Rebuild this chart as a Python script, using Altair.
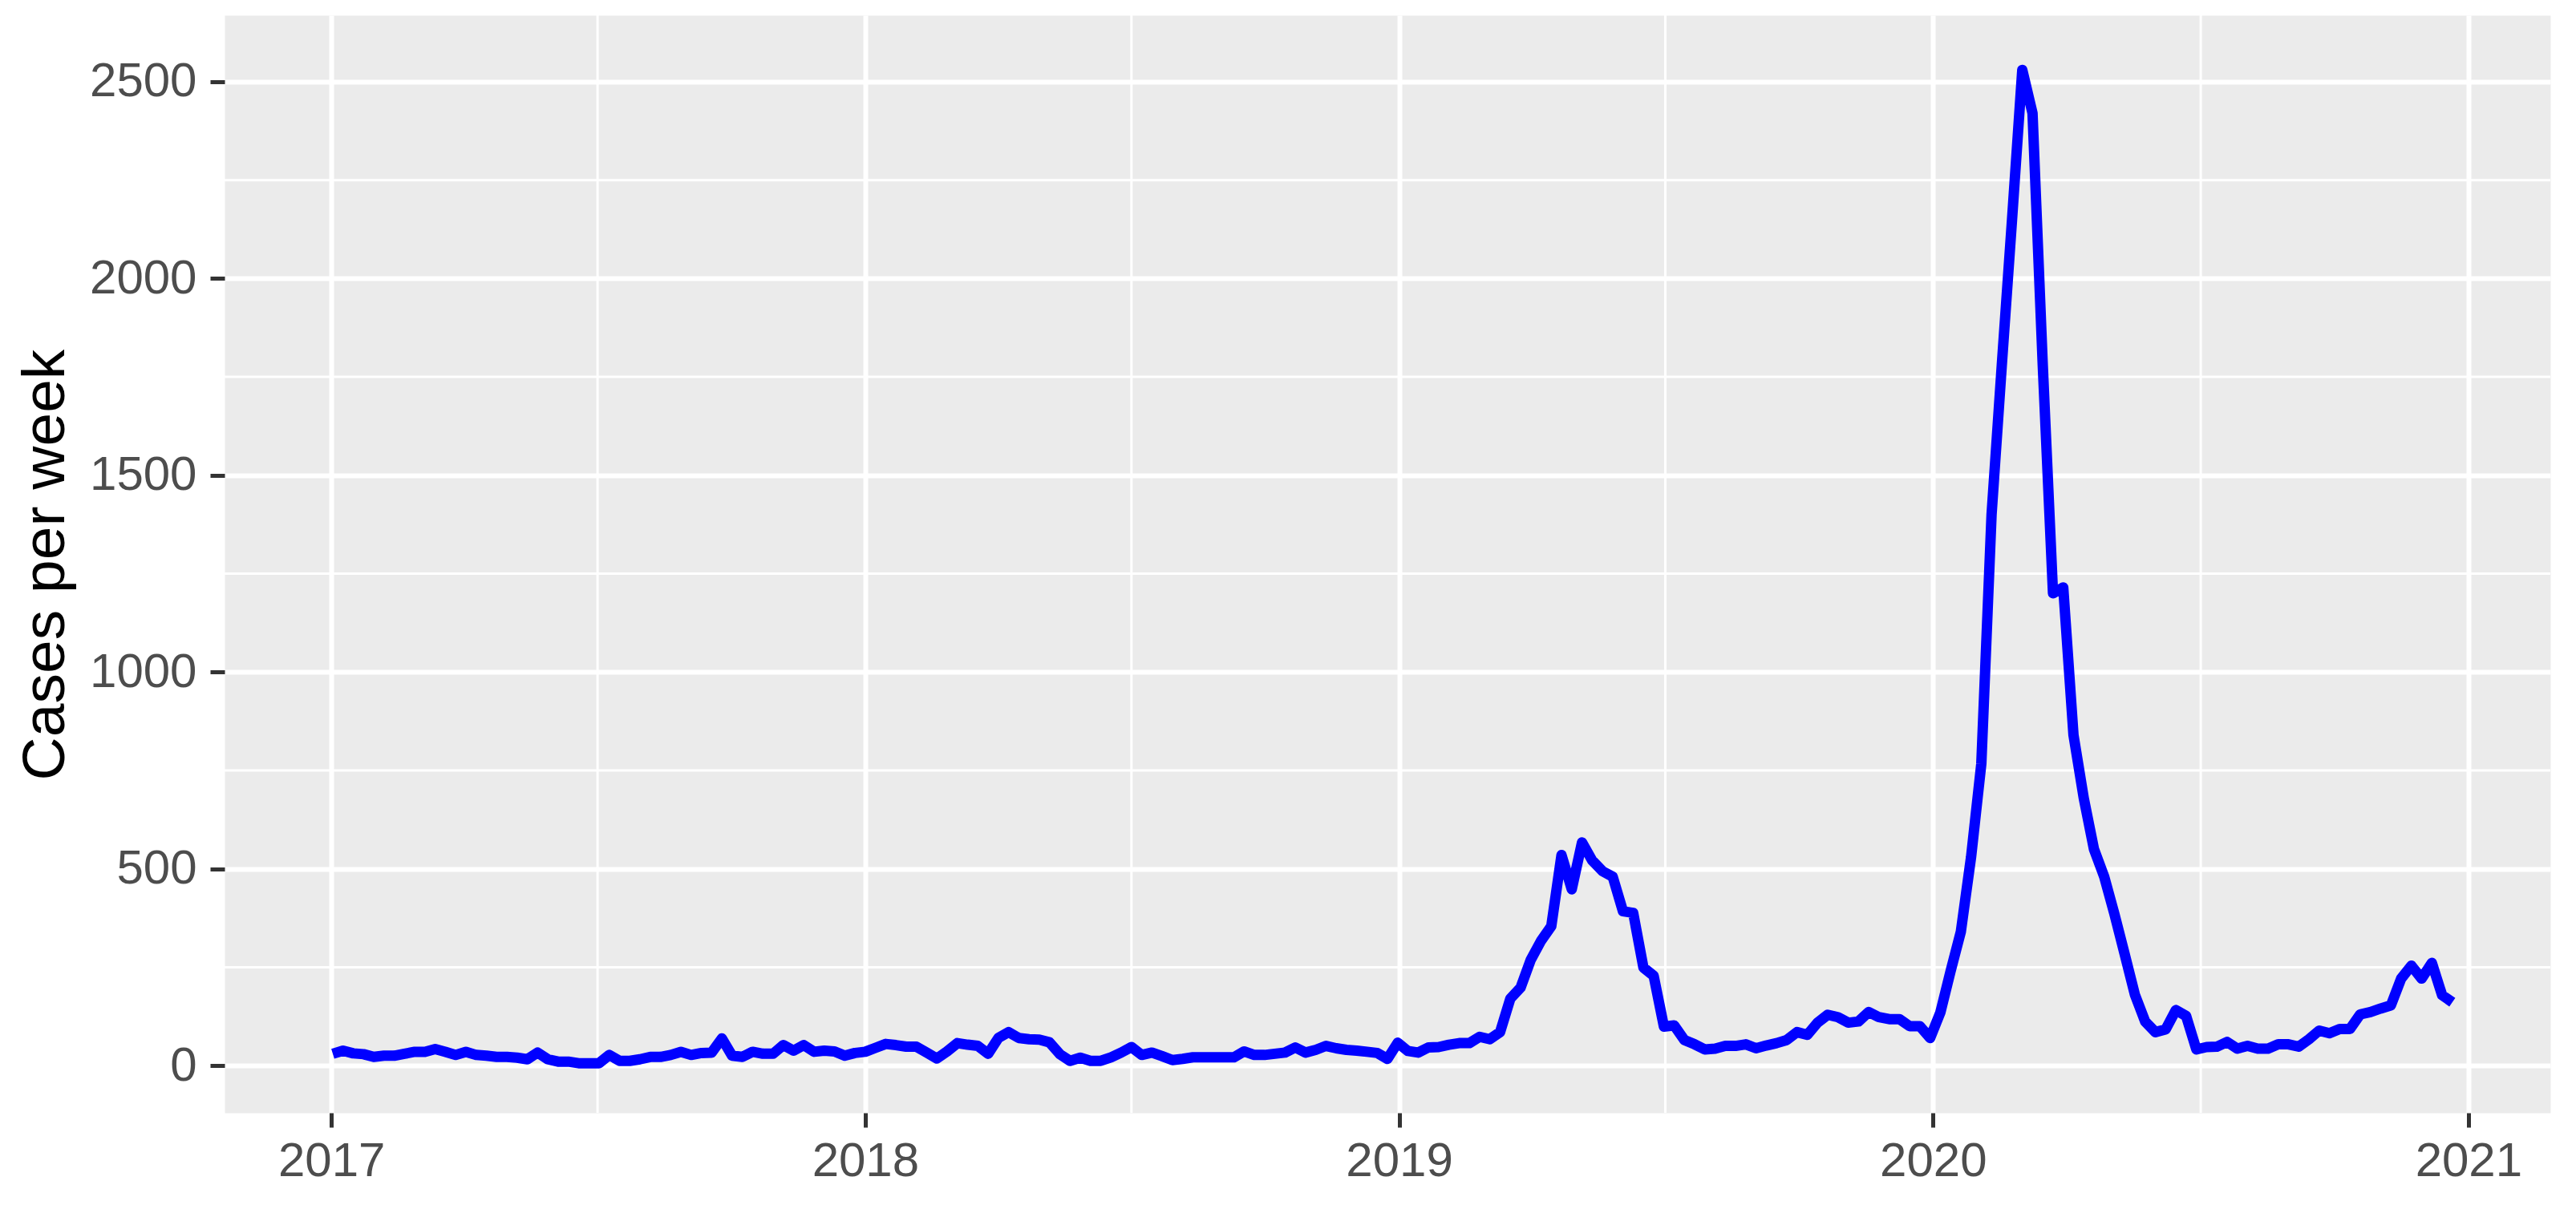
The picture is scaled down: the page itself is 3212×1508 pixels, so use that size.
import altair as alt
import pandas as pd

# Weekly case counts (first week starting 2017-01-02)
cases_2017 = [30, 38, 31, 29, 22, 25, 25, 30, 35, 35, 42, 35, 27, 35, 27, 25, 22, 22,
              20, 16, 33, 16, 10, 10, 6, 6, 6, 27, 12, 12, 16, 22, 22, 27, 35, 27,
              32, 33, 69, 25, 22, 35, 30, 30, 52, 38, 52, 35, 38, 36, 25, 32]
cases_2018 = [35, 45, 55, 52, 48, 48, 33, 18, 36, 57, 53, 50, 30, 70, 85, 70, 67, 66,
              59, 29, 12, 20, 12, 12, 21, 33, 47, 27, 33, 24, 14, 17, 21, 21, 21, 21,
              21, 36, 27, 27, 30, 33, 46, 33, 40, 50, 44, 40, 38, 35, 32, 17]
cases_2019 = [58, 37, 33, 46, 47, 53, 57, 57, 73, 67, 85, 170, 198, 269, 317, 354, 535, 448,
              567, 521, 494, 480, 392, 388, 249, 228, 99, 102, 65, 54, 41, 43, 50, 50, 54, 44,
              51, 57, 65, 85, 78, 109, 129, 123, 109, 112, 136, 123, 118, 118, 100, 100]
cases_2020 = [70, 135, 240, 340, 530, 767, 1400, 1780, 2150, 2530, 2420, 1780, 1200, 1215, 840, 680, 550, 480,
              385, 283, 180, 112, 85, 92, 141, 126, 41, 47, 48, 60, 43, 50, 43, 43, 54, 54,
              48, 67, 89, 82, 93, 93, 130, 136, 145, 153, 221, 254, 221, 261, 179, 161]

cases = cases_2017 + cases_2018 + cases_2019 + cases_2020
first_week = "2017-01-02"
weeks = pd.date_range(first_week, periods=len(cases), freq="7D")
df = pd.DataFrame({"week": weeks, "cases": cases})

year_ticks = [2017, 2018, 2019, 2020, 2021]
y_ticks = [0, 500, 1000, 1500, 2000, 2500]
minor_x_dates = ["2017-07-02", "2018-07-02", "2019-07-02", "2020-07-02"]
minor_y_vals = [250, 750, 1250, 1750, 2250]

x_domain = [alt.DateTime(year=2016, month=10, date=20), alt.DateTime(year=2021, month=2, date=26)]
y_domain = [-120, 2669]

FONT = "Liberation Sans"
LABEL_COLOR = "#4D4D4D"

x_scale = alt.Scale(domain=x_domain, nice=False)
y_scale = alt.Scale(domain=y_domain, nice=False, zero=False)

x_axis = alt.Axis(
    values=[alt.DateTime(year=y, month=1, date=1) for y in year_ticks],
    format="%Y", title=None, labelFont=FONT, labelFontSize=60, labelColor=LABEL_COLOR,
    labelPadding=13, labelFlush=False, labelAngle=0, tickSize=18, tickWidth=5,
    tickColor="#333333", domain=False, grid=True, gridColor="white", gridWidth=6,
)
y_axis = alt.Axis(
    values=y_ticks, format="d", title="Cases per week", labelFont=FONT, labelFontSize=60,
    labelColor=LABEL_COLOR, labelPadding=17, labelFlush=False, tickSize=18, tickWidth=5,
    tickColor="#333333", domain=False, grid=True, gridColor="white", gridWidth=6,
    titleFont=FONT, titleFontSize=75, titleFontWeight="normal", titleColor="black",
    titleAngle=270, titleX=-201, titleY=685, titleBaseline="alphabetic", titleAlign="center",
)

minor_x_df = pd.DataFrame({"week": pd.to_datetime(minor_x_dates)})
minor_y_df = pd.DataFrame({"cases": minor_y_vals})

minor_x = alt.Chart(minor_x_df).mark_rule(color="white", strokeWidth=3).encode(
    x=alt.X("week:T", scale=x_scale, axis=x_axis)
)
minor_y = alt.Chart(minor_y_df).mark_rule(color="white", strokeWidth=3).encode(
    y=alt.Y("cases:Q", scale=y_scale, axis=y_axis)
)
line = alt.Chart(df).mark_line(color="#0000FF", strokeWidth=13, strokeJoin="round").encode(
    x=alt.X("week:T", scale=x_scale, axis=x_axis),
    y=alt.Y("cases:Q", scale=y_scale, axis=y_axis),
)

chart = alt.layer(minor_x, minor_y, line).properties(
    width=2900, height=1369,
    padding={"left": 272, "top": 11, "right": 24, "bottom": 112},
    autosize=alt.AutoSizeParams(type="none"),
    background="white",
).configure_view(fill="#EBEBEB", stroke="transparent")

chart.save("out.html", embed_options={"renderer": "svg", "actions": False})
